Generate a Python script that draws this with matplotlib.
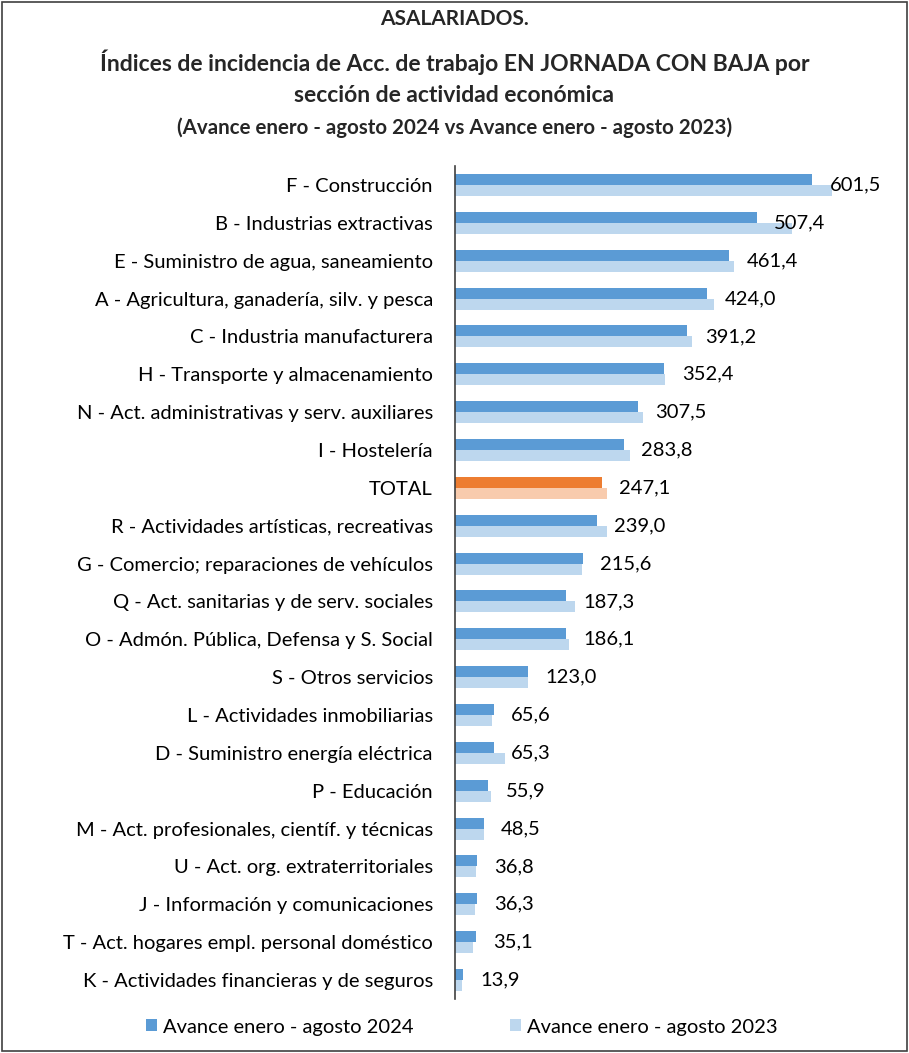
import matplotlib.pyplot as plt
import numpy as np

plt.rcParams['font.family'] = ['Lato', 'DejaVu Sans']

sections = [
    "F - Construcción",
    "B - Industrias extractivas",
    "E - Suministro de agua, saneamiento",
    "A - Agricultura, ganadería, silv. y pesca",
    "C - Industria manufacturera",
    "H - Transporte y almacenamiento",
    "N - Act. administrativas y serv. auxiliares",
    "I - Hostelería",
    "TOTAL",
    "R - Actividades artísticas, recreativas",
    "G - Comercio; reparaciones de vehículos",
    "Q - Act. sanitarias y de serv. sociales",
    "O - Admón. Pública, Defensa y S. Social",
    "S - Otros servicios",
    "L - Actividades inmobiliarias",
    "D - Suministro energía eléctrica",
    "P - Educación",
    "M - Act. profesionales, científ. y técnicas",
    "U - Act. org. extraterritoriales",
    "J - Información y comunicaciones",
    "T - Act. hogares empl. personal doméstico",
    "K - Actividades financieras y de seguros",
]
avance_2024 = [601.5, 507.4, 461.4, 424.0, 391.2, 352.4, 307.5, 283.8, 247.1, 239.0,
               215.6, 187.3, 186.1, 123.0, 65.6, 65.3, 55.9, 48.5, 36.8, 36.3, 35.1, 13.9]
avance_2023 = [635.0, 567.0, 469.0, 435.0, 398.0, 353.0, 316.0, 295.0, 255.0, 255.0,
               213.0, 202.0, 192.0, 123.0, 62.0, 83.5, 60.0, 49.0, 36.0, 33.0, 31.0, 12.0]

blue_dark, blue_light = "#5B9BD5", "#BDD7EE"
orange_dark, orange_light = "#ED7D31", "#F8CBAD"

fig = plt.figure(figsize=(9.09, 10.53), dpi=100)
ax = fig.add_axes([455 / 909, 1 - 999 / 1053, 416 / 909, 833 / 1053])

y = np.arange(len(sections))
h = 0.29
c24 = [orange_dark if s == "TOTAL" else blue_dark for s in sections]
c23 = [orange_light if s == "TOTAL" else blue_light for s in sections]

ax.barh(y - h / 2, avance_2024, height=h, color=c24, label="Avance enero - agosto 2024")
ax.barh(y + h / 2, avance_2023, height=h, color=c23, label="Avance enero - agosto 2023")

for yi, v in zip(y, avance_2024):
    ax.annotate(f"{v:.1f}".replace(".", ","), (v, yi), xytext=(12.5, 0),
                textcoords="offset points", va="center", ha="left", fontsize=14.5)

ax.set_xlim(0, 700)
ax.set_ylim(len(sections) - 0.5, -0.5)
ax.set_yticks(y)
ax.set_yticklabels(sections, fontsize=14.5)
ax.tick_params(axis="y", length=0, pad=16)
ax.set_xticks([])
for side in ["top", "right", "bottom"]:
    ax.spines[side].set_visible(False)
ax.spines["left"].set_color("#404040")
ax.spines["left"].set_linewidth(1.2)

title_kw = dict(ha="center", va="center", fontweight="bold", color="#262626")
fig.text(0.5, 1 - 19 / 1053, "ASALARIADOS.", fontsize=15, **title_kw)
fig.text(0.5, 1 - 62 / 1053, "Índices de incidencia de Acc. de trabajo EN JORNADA CON BAJA por",
         fontsize=16.5, **title_kw)
fig.text(0.5, 1 - 95 / 1053, "sección de actividad económica", fontsize=16.5, **title_kw)
fig.text(0.5, 1 - 128 / 1053, "(Avance enero - agosto 2024 vs Avance enero - agosto 2023)",
         fontsize=14.8, **title_kw)

fig.legend(loc="center", bbox_to_anchor=(0.508, 1 - 1027 / 1053), ncol=2, frameon=False,
           fontsize=14.5, handlelength=0.55, handleheight=0.55, handletextpad=0.3,
           columnspacing=4.75)

fig.patches.append(plt.Rectangle((0.002, 0.002), 0.996, 0.996, transform=fig.transFigure,
                                 fill=False, edgecolor="#404040", linewidth=1.2))

fig.savefig("out.png", dpi=100)
